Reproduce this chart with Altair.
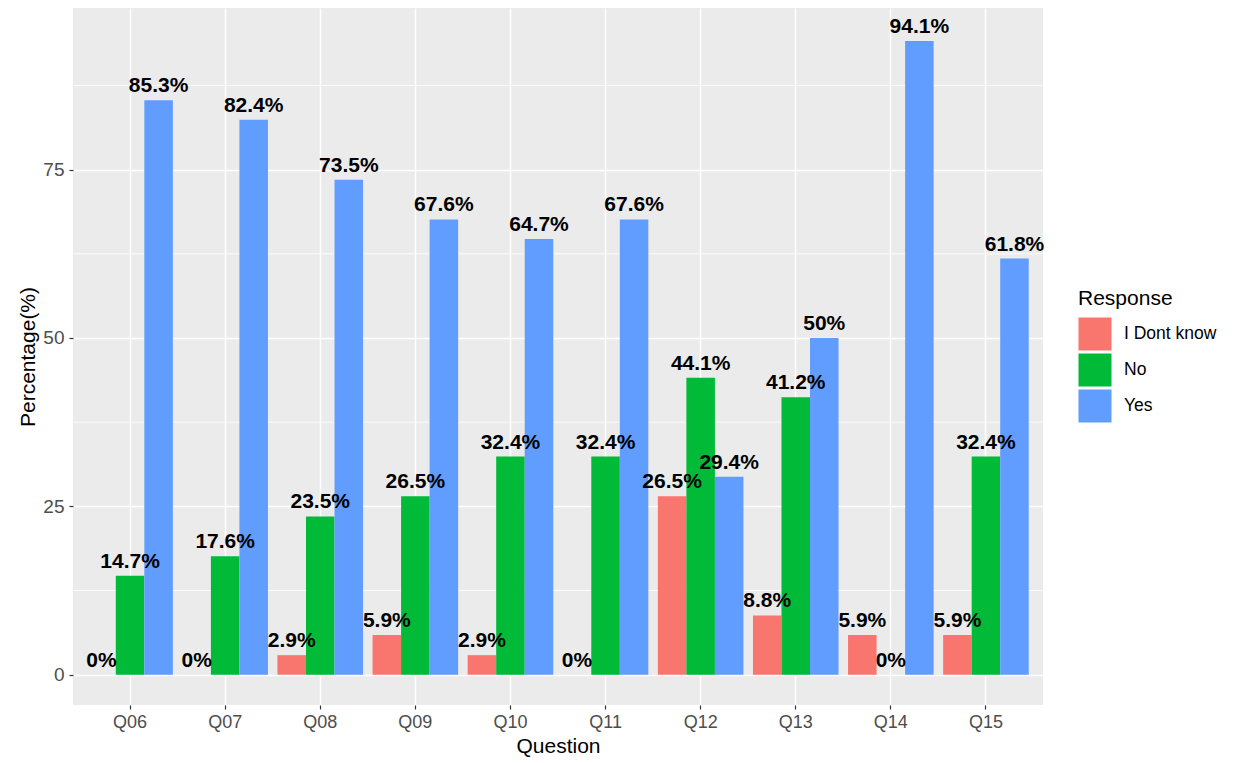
import altair as alt
import pandas as pd

questions = ["Q06", "Q07", "Q08", "Q09", "Q10", "Q11", "Q12", "Q13", "Q14", "Q15"]
responses = ["I Dont know", "No", "Yes"]
dont_know = [0, 0, 2.9, 5.9, 2.9, 0, 26.5, 8.8, 5.9, 5.9]
no_vals = [14.7, 17.6, 23.5, 26.5, 32.4, 32.4, 44.1, 41.2, 0, 32.4]
yes_vals = [85.3, 82.4, 73.5, 67.6, 64.7, 67.6, 29.4, 50, 94.1, 61.8]
colors = ["#F8766D", "#00BA38", "#619CFF"]
y_ticks = [0, 25, 50, 75]
minor_ticks = [12.5, 37.5, 62.5, 87.5]

rows = []
for resp, vals in zip(responses, [dont_know, no_vals, yes_vals]):
    for q, v in zip(questions, vals):
        rows.append({"Question": q, "Response": resp, "Value": v, "Label": f"{v:g}%"})
df = pd.DataFrame(rows)

FONT = "Liberation Sans"

x_enc = alt.X("Question:N", sort=questions, title="Question",
              scale=alt.Scale(paddingInner=0, paddingOuter=0.1),
              axis=alt.Axis(bandPosition=0.5, grid=True, gridColor="white", gridWidth=1.5,
                            domain=False, tickColor="#333333", tickSize=4, tickWidth=1.2,
                            labelColor="#4D4D4D", labelFontSize=18, labelPadding=4,
                            labelAngle=0, titleFontSize=21, titleFontWeight="normal",
                            titleColor="black", titlePadding=4))
y_scale = alt.Scale(domain=[-4.5, 99], nice=False, zero=False)
y_axis = alt.Axis(values=y_ticks, grid=True, gridColor="white", gridWidth=1.5, domain=False,
                  tickColor="#333333", tickSize=4, tickWidth=1.2, labelColor="#4D4D4D",
                  labelFontSize=19, labelPadding=5, titleFontSize=21,
                  titleFontWeight="normal", titleColor="black", titlePadding=4)
xoff = alt.XOffset("Response:N", sort=responses,
                   scale=alt.Scale(paddingInner=0, paddingOuter=1/6))

minor = alt.Chart(pd.DataFrame({"y": minor_ticks})).mark_rule(
    color="white", strokeWidth=0.8
).encode(y=alt.Y("y:Q", scale=y_scale, axis=y_axis, title="Percentage(%)"))

bars = alt.Chart(df).mark_bar().encode(
    x=x_enc,
    xOffset=xoff,
    y=alt.Y("Value:Q", scale=y_scale, axis=y_axis, title="Percentage(%)"),
    y2=alt.datum(0),
    color=alt.Color("Response:N", sort=responses,
                    scale=alt.Scale(domain=responses, range=colors),
                    legend=alt.Legend(title="Response", orient="none", legendX=1005, legendY=280,
                                      symbolType="square", symbolSize=1090, symbolStrokeWidth=0,
                                      symbolOpacity=1, rowPadding=2, labelFontSize=17.5,
                                      labelColor="black", titleFontSize=21,
                                      titleFontWeight="normal", titleColor="black",
                                      titlePadding=8, labelOffset=12)),
)

labels = alt.Chart(df).mark_text(
    baseline="alphabetic", dy=-8, fontSize=21, fontWeight="bold", color="black", font=FONT
).encode(
    x=alt.X("Question:N", sort=questions),
    xOffset=xoff,
    y=alt.Y("Value:Q", scale=y_scale),
    text="Label:N",
)

chart = alt.layer(minor, bars, labels).properties(
    width=970, height=697,
    autosize=alt.AutoSizeParams(type="none"),
    padding={"left": 65, "top": 0, "right": 180, "bottom": 58},
).configure(font=FONT).configure_view(fill="#EBEBEB", stroke=None)

chart.save("out.html", embed_options={"renderer": "svg", "actions": False})
